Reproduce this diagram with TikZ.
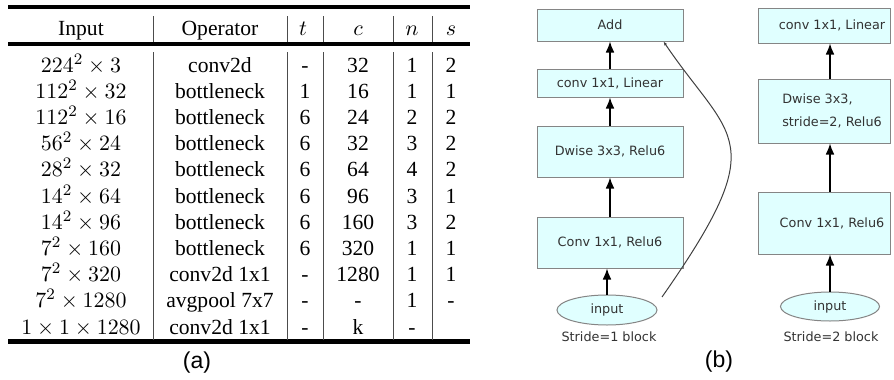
\documentclass[tikz,border=0pt]{standalone}
\usepackage[no-math]{fontspec}
\usepackage{amsmath}
\usepackage{xcolor}
\usepackage{tikz}
\usetikzlibrary{calc,arrows.meta,shapes.geometric}
\newfontfamily\tabfont{Liberation Serif}
\newfontfamily\figfont{DejaVu Sans}
\newfontfamily\capfont{Liberation Sans}
\definecolor{boxfill}{HTML}{E0FFFF}
\definecolor{boxline}{HTML}{858585}
\definecolor{figtext}{HTML}{333333}
\tikzset{
  rule/.style={draw=black, line width=2.3pt},
  midrule/.style={draw=black, line width=2pt},
  colsep/.style={draw=black!70, line width=0.5pt},
  cell/.style={anchor=base, inner sep=0pt, font=\tabfont\fontsize{10.8}{13}\selectfont},
  block/.style={draw=boxline, fill=boxfill, line width=0.5pt, inner sep=0pt,
    text=figtext, font=\figfont\fontsize{6.4}{8}\selectfont},
  inp/.style={block, ellipse},
  txt/.style={text=figtext, inner sep=0pt, font=\figfont\fontsize{6.4}{8}\selectfont},
  flow/.style={draw=black, line width=0.7pt, -{Latex[length=5.5pt,width=4.4pt]}},
  skip/.style={draw=black!75, line width=0.5pt, -{Latex[length=2pt,width=1.6pt]}},
  sublabel/.style={inner sep=0pt, font=\capfont\fontsize{11.5}{14}\selectfont}
}

\begin{document}
\begin{tikzpicture}[x=0.5pt, y=-0.5pt]
  \useasboundingbox (0,0) rectangle (894,380);
  \fill[white] (0,0) rectangle (894,380);

  % (a) table
  \draw[rule] (8,7) -- (470,7);
  \draw[midrule] (8,44) -- (470,44);
  \draw[rule] (8,341.5) -- (470,341.5);
  \foreach \x in {153,287,323,393,432} {
    \draw[colsep] (\x,16) -- (\x,42);
    \draw[colsep] (\x,52) -- (\x,340);
  }

  \node[cell] (hin) at (81,35) {Input};
  \node[cell] (hop) at (220,35) {Operator};
  \node[cell] (ht) at (303,35) {$t$};
  \node[cell] (hc) at (358,35) {$c$};
  \node[cell] (hn) at (412,35) {$n$};
  \node[cell] (hs) at (451,35) {$s$};

  \foreach \inp/\op/\vt/\vc/\vn/\vs [count=\i from 0] in {
      {224^2\times 3}/conv2d/-/32/1/2,
      {112^2\times 32}/bottleneck/1/16/1/1,
      {112^2\times 16}/bottleneck/6/24/2/2,
      {56^2\times 24}/bottleneck/6/32/3/2,
      {28^2\times 32}/bottleneck/6/64/4/2,
      {14^2\times 64}/bottleneck/6/96/3/1,
      {14^2\times 96}/bottleneck/6/160/3/2,
      {7^2\times 160}/bottleneck/6/320/1/1,
      {7^2\times 320}/conv2d 1x1/-/1280/1/1,
      {7^2\times 1280}/avgpool 7x7/-/-/1/-,
      {1\times 1\times 1280}/conv2d 1x1/-/k/-/{}} {
    \pgfmathsetmacro\yy{72+26.2*\i}
    \node[cell] (in\i) at (81,\yy) {$\inp$};
    \node[cell] (op\i) at (220,\yy) {\op};
    \node[cell] (t\i) at (305,\yy) {\vt};
    \node[cell] (c\i) at (358,\yy) {\vc};
    \node[cell] (n\i) at (412,\yy) {\vn};
    \node[cell] (s\i) at (451,\yy) {\vs};
  }
  \node[sublabel] (capa) at (197,363) {(a)};

  % (b) stride=1 block
  \node[block, minimum width=73pt, minimum height=16pt] (add) at (610,25) {Add};
  \node[block, minimum width=73pt, minimum height=14pt] (lin1) at (610,83) {conv 1x1, Linear};
  \node[block, minimum width=73pt, minimum height=25.5pt] (dw1) at (610,151.5) {Dwise 3x3, Relu6};
  \node[block, minimum width=73pt, minimum height=25.5pt] (cv1) at (610,242.5) {Conv 1x1, Relu6};
  \node[inp, minimum width=50pt, minimum height=15pt] (in1) at (607,310) {input};
  \node[txt] (lbl1) at (609,337) {Stride=1 block};

  \draw[flow] (in1.north) -- (in1.north |- cv1.south);
  \draw[flow] (cv1.north) -- (dw1.south);
  \draw[flow] (dw1.north) -- (lin1.south);
  \draw[flow] (lin1.north) -- (add.south);

  \coordinate (skipA) at (662,297);
  \coordinate (skipB) at ($(add.south east)+(-20,0)$);
  \draw[skip] (skipA) .. controls (774,137) and (731,141) .. (skipB);

  % (b) stride=2 block
  \node[block, minimum width=66pt, minimum height=17.5pt] (lin2) at (824,25.5) {};
  \node[txt] (lin2t) at (832,25.5) {conv 1x1, Linear};
  \node[block, minimum width=66pt, minimum height=32pt] (dw2) at (824,111) {};
  \node[txt, align=left, font=\figfont\fontsize{6.4}{11.5}\selectfont] (dw2t) at (832,111) {Dwise 3x3,\\stride=2, Relu6};
  \node[block, minimum width=66pt, minimum height=31pt] (cv2) at (824,223) {};
  \node[txt] (cv2t) at (832,223) {Conv 1x1, Relu6};
  \node[inp, minimum width=49.5pt, minimum height=14.5pt] (in2) at (830,306.5) {input};
  \node[txt] (lbl2) at (831,337) {Stride=2 block};

  \draw[flow] (in2.north) -- (in2.north |- cv2.south);
  \draw[flow] (in2.north |- cv2.north) -- (in2.north |- dw2.south);
  \draw[flow] (in2.north |- dw2.north) -- (in2.north |- lin2.south);

  \node[sublabel] (capb) at (719,362) {(b)};
\end{tikzpicture}
\end{document}
